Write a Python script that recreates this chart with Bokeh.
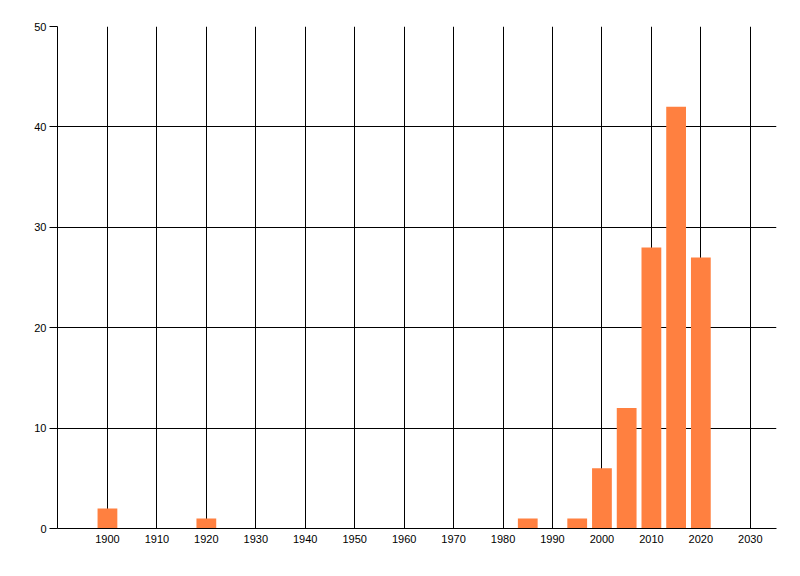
import numpy as np
from bokeh.plotting import figure
from bokeh.models import Range1d, FixedTicker
from bokeh.embed import file_html
from bokeh.resources import INLINE

# bar positions (year) and heights
years = [1900, 1920, 1985, 1995, 2000, 2005, 2010, 2015, 2020]
counts = [2, 1, 1, 1, 6, 12, 28, 42, 27]

x_ticks = list(range(1900, 2031, 10))
y_ticks = [0, 10, 20, 30, 40, 50]

p = figure(width=784, height=560,
           x_range=Range1d(1889.9, 2035.3), y_range=Range1d(0, 50),
           output_backend="svg", toolbar_location=None, tools="")
p.min_border_left = 57
p.min_border_right = 8
p.min_border_top = 26
p.min_border_bottom = 32
p.outline_line_color = None
p.background_fill_color = "white"
p.border_fill_color = "white"

# bars
p.vbar(x=years, top=counts, width=4, bottom=0,
       fill_color="#FF8040", line_color=None)

# axes
p.xaxis.ticker = FixedTicker(ticks=x_ticks)
p.yaxis.ticker = FixedTicker(ticks=y_ticks)
for ax in (p.xaxis, p.yaxis):
    ax.axis_line_color = "black"
    ax.major_label_text_font = "Liberation Sans"
    ax.major_label_text_font_size = "11px"
    ax.major_label_text_color = "black"
    ax.minor_tick_line_color = None
p.xaxis.major_tick_out = 0
p.xaxis.major_tick_in = 0
p.xaxis.major_label_standoff = 6
p.yaxis.major_tick_out = 8
p.yaxis.major_tick_in = 0
p.yaxis.major_tick_line_color = "black"
p.yaxis.major_label_standoff = 3

# grid lines in black
p.xgrid.grid_line_color = "black"
p.ygrid.grid_line_color = "black"
p.xgrid.grid_line_alpha = 1.0
p.ygrid.grid_line_alpha = 1.0

open("out.html", "w").write(file_html(p, INLINE))
